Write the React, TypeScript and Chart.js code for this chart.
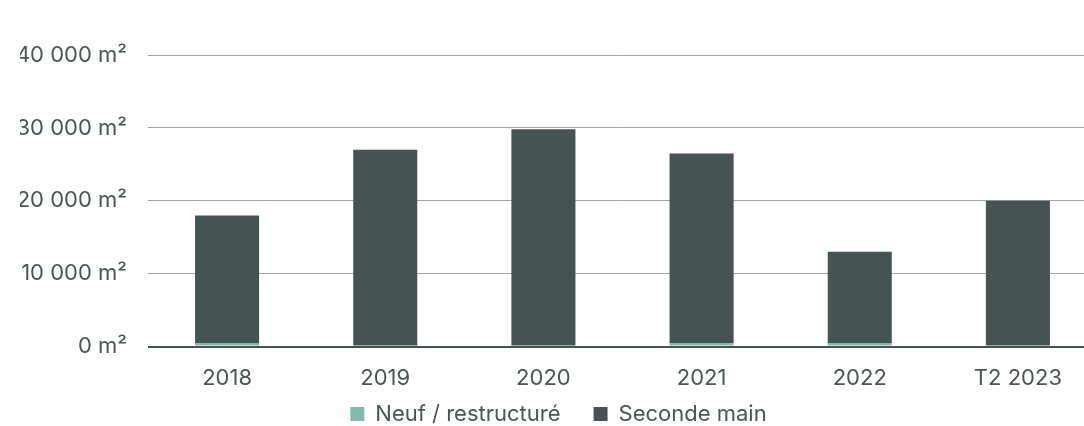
import React, { useEffect, useRef } from "react";
import { Chart, registerables } from "chart.js";

Chart.register(...registerables);

const categories = ["2018", "2019", "2020", "2021", "2022", "T2 2023"];
const neufValues = [500, 0, 0, 500, 500, 0];
const secondeMainValues = [17500, 27000, 29800, 26000, 12500, 20000];
const seriesLabels = ["Neuf / restructuré", "Seconde main"];
const yMax = 40000;
const yStep = 10000;

const FONT = "Inter, 'Noto Sans', sans-serif";
const TEXT = "#4a5654";
const DARK = "#455352";
const LIGHT = "#7fbcac";

function fmt(v: number): string {
  const s = Math.round(v).toString().replace(/\B(?=(\d{3})+(?!\d))/g, " ");
  return s + " m²";
}

export default function App() {
  const ref = useRef<HTMLCanvasElement | null>(null);
  useEffect(() => {
    if (!ref.current) return;
    const chart = new Chart(ref.current, {
      type: "bar",
      data: {
        labels: categories,
        datasets: [
          {
            label: seriesLabels[0],
            data: neufValues,
            backgroundColor: LIGHT,
            barPercentage: 0.81,
            categoryPercentage: 0.5,
          },
          {
            label: seriesLabels[1],
            data: secondeMainValues,
            backgroundColor: DARK,
            barPercentage: 0.81,
            categoryPercentage: 0.5,
          },
        ],
      },
      options: {
        animation: false,
        responsive: true,
        maintainAspectRatio: false,
        layout: { padding: { top: 55, left: 20, right: 0, bottom: -9 } },
        scales: {
          x: {
            stacked: true,
            grid: { display: false },
            border: { display: false },
            ticks: { color: TEXT, font: { family: FONT, size: 22 }, padding: 11 },
          },
          y: {
            stacked: true,
            min: 0,
            max: yMax,
            border: { display: false },
            afterFit: (scale: any) => {
              scale.width = 128;
            },
            grid: {
              drawTicks: false,
              color: (ctx: any) => (ctx.tick && ctx.tick.value === 0 ? DARK : "#a3a3a3"),
              lineWidth: (ctx: any) => (ctx.tick && ctx.tick.value === 0 ? 2 : 1),
            },
            ticks: {
              stepSize: yStep,
              color: TEXT,
              font: { family: FONT, size: 22 },
              padding: 21,
              callback: (v: any) => fmt(Number(v)),
            },
          },
        },
        plugins: {
          legend: {
            position: "bottom",
            labels: {
              color: TEXT,
              font: { family: FONT, size: 22 },
              boxWidth: 14,
              boxHeight: 14,
              padding: 0,
              generateLabels: (c: any) => {
                const items = (Chart.defaults.plugins.legend.labels as any).generateLabels(c);
                if (items.length > 0) items[0].text = items[0].text + "\u2002\u2002\u2002";
                return items;
              },
            },
          },
          tooltip: { enabled: false },
        },
      },
    });
    return () => chart.destroy();
  }, []);
  return (
    <div style={{ position: "fixed", left: 0, top: 0, width: 1084, height: 426, overflow: "hidden", background: "#fff" }}>
      <div style={{ position: "absolute", left: 0, top: 0, width: 1097, height: 426 }}>
        <canvas ref={ref} />
      </div>
    </div>
  );
}
